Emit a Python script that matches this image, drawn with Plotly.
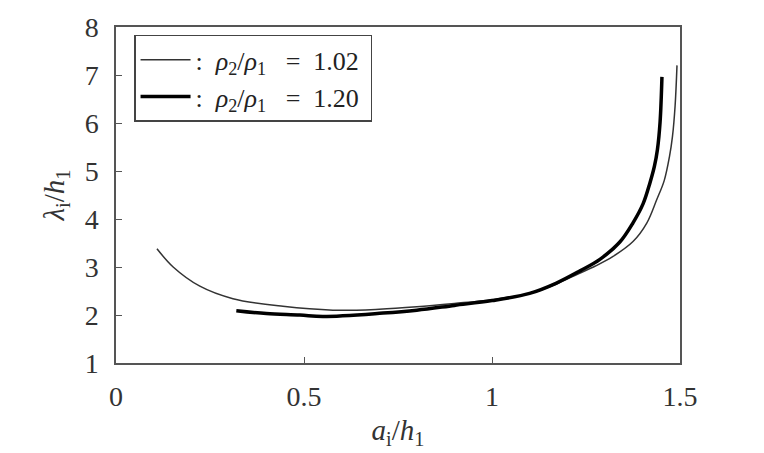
import plotly.graph_objects as go

# rho2/rho1 = 1.02 (thin)
x_102 = [0.109, 0.152, 0.223, 0.311, 0.444, 0.577, 0.70, 0.80, 0.90, 1.00, 1.10, 1.17, 1.23, 1.275, 1.322, 1.375, 1.412, 1.438, 1.458, 1.472, 1.480, 1.487, 1.492]
y_102 = [3.38, 3.00, 2.60, 2.34, 2.18, 2.10, 2.12, 2.17, 2.24, 2.32, 2.45, 2.64, 2.86, 3.02, 3.22, 3.53, 3.92, 4.40, 4.80, 5.30, 5.72, 6.36, 7.20]

# rho2/rho1 = 1.20 (thick)
x_120 = [0.32, 0.40, 0.489, 0.55, 0.71, 0.80, 0.90, 1.00, 1.10, 1.17, 1.234, 1.287, 1.340, 1.375, 1.402, 1.420, 1.432, 1.440, 1.447, 1.452]
y_120 = [2.09, 2.03, 2.00, 1.97, 2.04, 2.10, 2.20, 2.30, 2.45, 2.66, 2.92, 3.16, 3.52, 3.92, 4.32, 4.75, 5.10, 5.45, 6.02, 6.96]

series_names = [
    ":&nbsp;&nbsp;<i>ρ</i><sub>2</sub>/<i>ρ</i><sub>1</sub>&nbsp;&nbsp;&nbsp;=&nbsp;&nbsp;1.02&nbsp;",
    ":&nbsp;&nbsp;<i>ρ</i><sub>2</sub>/<i>ρ</i><sub>1</sub>&nbsp;&nbsp;&nbsp;=&nbsp;&nbsp;1.20&nbsp;",
]

x_ticks = [0, 0.5, 1, 1.5]
x_ticklabels = ["0", "0.5", "1", "1.5"]
y_ticks = [1, 2, 3, 4, 5, 6, 7, 8]

FONT = "Liberation Serif, Times New Roman, Times, serif"

fig = go.Figure()
fig.add_trace(go.Scatter(
    x=x_102, y=y_102, mode="lines",
    line=dict(color="#333333", width=1.5, shape="spline", smoothing=1.0),
    name=series_names[0],
))
fig.add_trace(go.Scatter(
    x=x_120, y=y_120, mode="lines",
    line=dict(color="#000000", width=3.5, shape="spline", smoothing=1.0),
    name=series_names[1],
))

axis_common = dict(
    showline=True, linecolor="#555555", linewidth=1.5, mirror=True,
    ticks="inside", ticklen=6, tickcolor="#555555", tickwidth=1,
    showgrid=False, zeroline=False,
    tickfont=dict(family=FONT, size=28, color="#333333"),
)

fig.update_layout(
    width=764, height=453,
    margin=dict(l=116, r=84, t=23, b=80),
    paper_bgcolor="white", plot_bgcolor="white",
    showlegend=True,
    legend=dict(
        x=0.032, y=0.977, xanchor="left", yanchor="top",
        bordercolor="#444444", borderwidth=1.5, bgcolor="white",
        font=dict(family=FONT, size=26, color="#222222"),
        itemwidth=50, tracegroupgap=0,
    ),
    xaxis=dict(
        range=[0, 1.5], tickvals=x_ticks, ticktext=x_ticklabels,
        ticklabelstandoff=8,
        title=dict(text="<i>a</i><sub>i</sub>/<i>h</i><sub>1</sub>",
                   font=dict(family=FONT, size=29, color="#333333"), standoff=8),
        **axis_common,
    ),
    yaxis=dict(
        range=[1, 8], tickvals=y_ticks,
        ticklabelstandoff=10,
        title=dict(text="<i>λ</i><sub>i</sub>/<i>h</i><sub>1</sub>",
                   font=dict(family=FONT, size=29, color="#333333"), standoff=12),
        **axis_common,
    ),
)

fig.write_html("out.html")
